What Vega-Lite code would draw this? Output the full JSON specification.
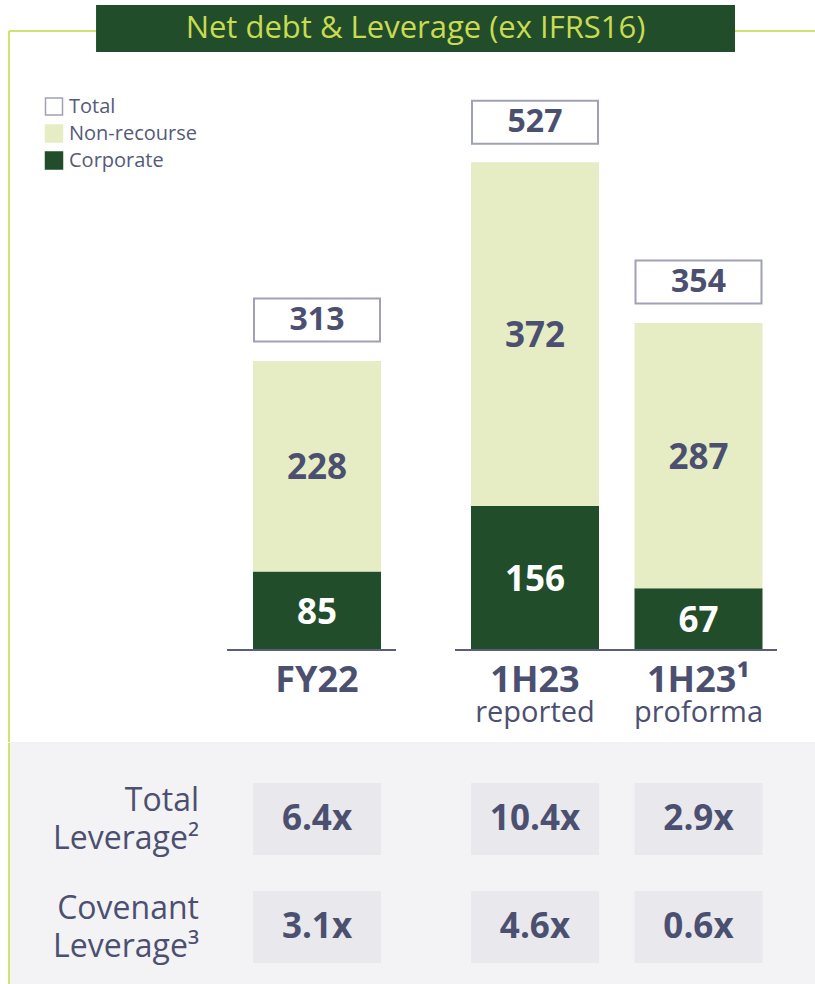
{
  "$schema": "https://vega.github.io/schema/vega-lite/v6.json",
  "background": "#ffffff",
  "padding": {"left": 8, "top": 5, "right": 0, "bottom": 0},
  "autosize": {"type": "pad"},
  "spacing": 0,
  "bounds": "flush",
  "config": {
    "view": {"stroke": null},
    "font": "Open Sans",
    "concat": {"spacing": 0}
  },
  "datasets": {
    "segments": [
      {"cat": "FY22", "type": "Corporate", "ord": 1, "v": 85},
      {"cat": "FY22", "type": "Non-recourse", "ord": 2, "v": 228},
      {"cat": "1H23 reported", "type": "Corporate", "ord": 1, "v": 156},
      {"cat": "1H23 reported", "type": "Non-recourse", "ord": 2, "v": 372},
      {"cat": "1H23 proforma", "type": "Corporate", "ord": 1, "v": 67},
      {"cat": "1H23 proforma", "type": "Non-recourse", "ord": 2, "v": 287}
    ],
    "totals": [
      {"cat": "FY22", "type": "Total", "v": 313},
      {"cat": "1H23 reported", "type": "Total", "v": 527},
      {"cat": "1H23 proforma", "type": "Total", "v": 354}
    ],
    "categories": [
      {"cat": "FY22", "l1": "FY22", "l2": ""},
      {"cat": "1H23 reported", "l1": "1H23", "l2": "reported"},
      {"cat": "1H23 proforma", "l1": "1H23¹", "l2": "proforma"}
    ],
    "leverage": [
      {"cat": "FY22", "metric": "Total Leverage²", "val": 6.4, "label": "6.4x"},
      {"cat": "1H23 reported", "metric": "Total Leverage²", "val": 10.4, "label": "10.4x"},
      {"cat": "1H23 proforma", "metric": "Total Leverage²", "val": 2.9, "label": "2.9x"},
      {"cat": "FY22", "metric": "Covenant Leverage³", "val": 3.1, "label": "3.1x"},
      {"cat": "1H23 reported", "metric": "Covenant Leverage³", "val": 4.6, "label": "4.6x"},
      {"cat": "1H23 proforma", "metric": "Covenant Leverage³", "val": 0.6, "label": "0.6x"}
    ],
    "banner": [{"title": "Net debt & Leverage (ex IFRS16)"}]
  },
  "vconcat": [
    {
      "data": {"name": "banner"},
      "width": 807,
      "height": 25,
      "mark": {"type": "bar", "color": "#214d2a"},
      "encoding": {
        "x": {"field": "title", "type": "nominal", "axis": null,
              "scale": {"paddingInner": 0, "paddingOuter": 0.1315, "align": 0.524}},
        "y": {"field": "title", "type": "nominal", "axis": null,
              "scale": {"paddingInner": 0, "paddingOuter": 0}}
      }
    },
    {
      "data": {"name": "banner"},
      "width": 807,
      "height": 22,
      "encoding": {
        "x": {"field": "title", "type": "nominal",
              "scale": {"paddingInner": 0, "paddingOuter": 0.1315, "align": 0.524},
              "axis": {"orient": "top", "domain": true, "domainColor": "#d3e26a", "domainWidth": 2,
                       "ticks": false, "labels": false, "title": null, "grid": false, "translate": 1}},
        "y": {"field": "title", "type": "nominal",
              "scale": {"paddingInner": 0, "paddingOuter": 0},
              "axis": {"orient": "left", "domain": true, "domainColor": "#d3e26a", "domainWidth": 2,
                       "ticks": false, "labels": false, "title": null, "grid": false, "translate": 1}}
      },
      "layer": [
        {"mark": {"type": "bar", "color": "#214d2a"}},
        {"mark": {"type": "text", "color": "#c8db52", "fontSize": 31, "dy": -12.5, "baseline": "middle", "align": "center"},
         "encoding": {"text": {"field": "title"}}}
      ]
    },
    {
      "width": 807,
      "height": 690,
      "layer": [
        {
          "data": {"name": "segments"},
          "mark": {"type": "bar", "width": 128, "strokeWidth": 0},
          "encoding": {
            "x": {"field": "cat", "type": "nominal", "axis": null,
                  "scale": {"type": "band", "domain": ["d0", "d1", "d2", "d3", "FY22", "d5", "d6", "d7", "1H23 reported", "d9", "d10", "1H23 proforma", "d12"],
                            "paddingInner": 0, "paddingOuter": 0.9037, "align": 0.6472}},
            "y": {"field": "v", "type": "quantitative", "stack": "zero",
                  "scale": {"domain": [-99.6, 647.5], "nice": false, "zero": false},
                  "axis": {"orient": "left", "domain": true, "domainColor": "#d3e26a", "domainWidth": 2,
                           "ticks": false, "labels": false, "title": null, "grid": false, "translate": 1}},
            "fill": {"field": "type", "type": "nominal",
                     "scale": {"domain": ["Total", "Non-recourse", "Corporate"], "range": ["#ffffff", "#e6edc4", "#214d2a"]},
                     "legend": {"orient": "none", "legendX": 36, "legendY": 91.5, "title": null, "symbolType": "square",
                                "symbolSize": 289, "symbolStrokeWidth": 1.5, "symbolOpacity": 1, "labelFontSize": 20,
                                "labelColor": "#555a78", "labelOffset": 5, "rowPadding": 3, "padding": 0}},
            "stroke": {"field": "type", "type": "nominal",
                       "scale": {"domain": ["Total", "Non-recourse", "Corporate"], "range": ["#a0a1b5", "#e6edc4", "#214d2a"]},
                       "legend": {"orient": "none", "legendX": 36, "legendY": 91.5, "title": null, "symbolType": "square",
                                  "symbolSize": 289, "symbolStrokeWidth": 1.5, "symbolOpacity": 1, "labelFontSize": 20,
                                  "labelColor": "#555a78", "labelOffset": 5, "rowPadding": 3, "padding": 0}},
            "order": {"field": "ord", "type": "quantitative"}
          }
        },
        {
          "data": {"values": [{}]},
          "mark": {"type": "rule", "color": "#5a5e7c", "strokeWidth": 2, "xOffset": -90, "x2Offset": 79},
          "encoding": {
            "x": {"datum": "FY22", "type": "nominal"},
            "x2": {"datum": "FY22"},
            "y": {"datum": 0, "type": "quantitative"}
          }
        },
        {
          "data": {"values": [{}]},
          "mark": {"type": "rule", "color": "#5a5e7c", "strokeWidth": 2, "xOffset": -80, "x2Offset": 78.5},
          "encoding": {
            "x": {"datum": "1H23 reported", "type": "nominal"},
            "x2": {"datum": "1H23 proforma"},
            "y": {"datum": 0, "type": "quantitative"}
          }
        },
        {
          "data": {"name": "segments"},
          "transform": [
            {"stack": "v", "groupby": ["cat"], "sort": [{"field": "ord", "order": "ascending"}], "as": ["y0", "y1"]},
            {"fold": ["y0", "y1"], "as": ["edge", "ypos"]}
          ],
          "mark": {"type": "text", "fontSize": 35, "fontWeight": "bold", "baseline": "middle", "align": "center", "dy": 2},
          "encoding": {
            "x": {"field": "cat", "type": "nominal"},
            "y": {"field": "ypos", "type": "quantitative", "aggregate": "mean"},
            "text": {"field": "v", "type": "quantitative"},
            "detail": {"field": "type"},
            "color": {"condition": {"test": "datum.type === 'Corporate'", "value": "#ffffff"}, "value": "#4c5070"}
          }
        },
        {
          "data": {"name": "totals"},
          "mark": {"type": "point", "shape": "M-1,-0.3413L1,-0.3413L1,0.3413L-1,0.3413Z", "size": 15876,
                   "filled": true, "opacity": 1, "strokeWidth": 2, "yOffset": -41},
          "encoding": {
            "x": {"field": "cat", "type": "nominal"},
            "y": {"field": "v", "type": "quantitative"},
            "fill": {"field": "type", "type": "nominal"},
            "stroke": {"field": "type", "type": "nominal"}
          }
        },
        {
          "data": {"name": "totals"},
          "mark": {"type": "text", "fontSize": 32, "fontWeight": "bold", "color": "#4c5070", "dy": -41, "baseline": "middle"},
          "encoding": {
            "x": {"field": "cat", "type": "nominal"},
            "y": {"field": "v", "type": "quantitative"},
            "text": {"field": "v", "type": "quantitative"}
          }
        },
        {
          "data": {"name": "categories"},
          "mark": {"type": "text", "fontSize": 36, "fontWeight": "bold", "color": "#4c5070", "dy": 31, "baseline": "middle"},
          "encoding": {
            "x": {"field": "cat", "type": "nominal"},
            "y": {"datum": 0, "type": "quantitative"},
            "text": {"field": "l1"}
          }
        },
        {
          "data": {"name": "categories"},
          "mark": {"type": "text", "fontSize": 29, "color": "#4c5070", "dy": 63, "baseline": "middle"},
          "encoding": {
            "x": {"field": "cat", "type": "nominal"},
            "y": {"datum": 0, "type": "quantitative"},
            "text": {"field": "l2"}
          }
        }
      ]
    },
    {
      "data": {"name": "leverage"},
      "width": 807,
      "height": 242,
      "view": {"fill": "#f3f3f6", "stroke": null},
      "encoding": {
        "x": {"field": "cat", "type": "nominal", "axis": null,
              "scale": {"type": "band", "domain": ["d0", "d1", "d2", "d3", "FY22", "d5", "d6", "d7", "1H23 reported", "d9", "d10", "1H23 proforma", "d12"],
                        "paddingInner": 0, "paddingOuter": 0.9037, "align": 0.6472}},
        "y": {"field": "metric", "type": "nominal",
              "scale": {"type": "point", "domain": ["Total Leverage²", "Covenant Leverage³"], "padding": 0.62, "align": 0.575},
              "axis": {"orient": "left", "domain": true, "domainColor": "#d3e26a", "domainWidth": 2, "translate": 1,
                       "ticks": false, "tickSize": 0, "grid": false, "title": null,
                       "labelExpr": "split(datum.label, ' ')", "labelAlign": "right", "labelBaseline": "middle",
                       "labelPadding": -190, "labelOffset": -19, "labelFontSize": 32, "labelColor": "#4c5070", "labelLineHeight": 38,
                       "labelFont": "Open Sans", "labelLimit": 0}}
      },
      "layer": [
        {
          "mark": {"type": "point", "shape": "M-1,-0.5625L1,-0.5625L1,0.5625L-1,0.5625Z", "size": 16384,
                   "filled": true, "opacity": 1, "color": "#e8e8ed", "strokeWidth": 0}
        },
        {
          "mark": {"type": "text", "fontSize": 35, "fontWeight": "bold", "color": "#4c5070", "baseline": "middle"},
          "encoding": {"text": {"field": "label"}}
        }
      ]
    }
  ]
}
